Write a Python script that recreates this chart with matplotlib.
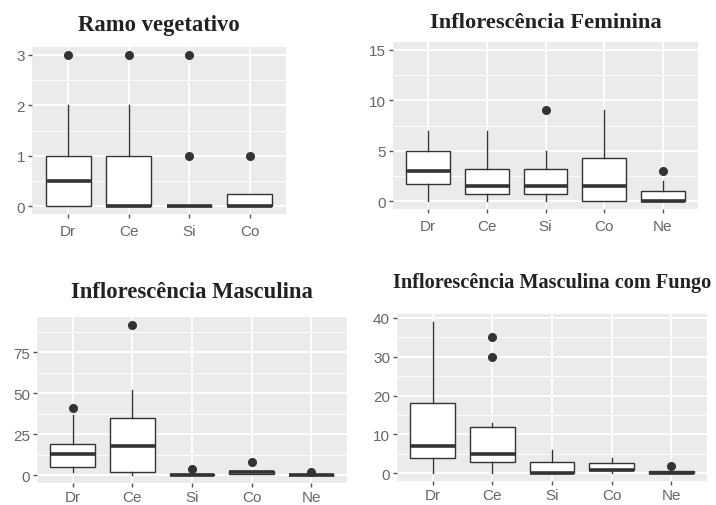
import matplotlib
matplotlib.use("Agg")
import matplotlib.pyplot as plt
from matplotlib.ticker import FixedLocator

# ---------------- data ----------------
cats4 = ["Dr", "Ce", "Si", "Co"]
cats5 = ["Dr", "Ce", "Si", "Co", "Ne"]

ramo_q1 = [0, 0, 0, 0]
ramo_med = [0.5, 0, 0, 0]
ramo_q3 = [1, 1, 0, 0.25]
ramo_lo = [0, 0, 0, 0]
ramo_hi = [2, 2, 0, 0.25]
ramo_out = [[3], [3], [1, 3], [1]]

fem_q1 = [1.75, 0.75, 0.75, 0, 0]
fem_med = [3, 1.5, 1.5, 1.5, 0]
fem_q3 = [5, 3.25, 3.25, 4.25, 1]
fem_lo = [0, 0, 0, 0, 0]
fem_hi = [7, 7, 5, 9, 2]
fem_out = [[], [], [9], [], [3]]

masc_q1 = [5, 2, 0, 1, 0]
masc_med = [13, 18, 0, 2, 0]
masc_q3 = [19, 35, 1, 3, 0.5]
masc_lo = [2, 0, 0, 1, 0]
masc_hi = [37, 52, 1, 3, 0.5]
masc_out = [[41], [92], [4], [8], [2]]

fungo_q1 = [4, 3, 0, 1, 0]
fungo_med = [7, 5, 0, 1, 0]
fungo_q3 = [18, 12, 3, 2.75, 0.5]
fungo_lo = [0, 0, 0, 0, 0]
fungo_hi = [39, 13, 6, 4, 0.5]
fungo_out = [[], [30, 35], [], [], [2]]

titles = ["Ramo vegetativo", "Inflorescência Feminina",
          "Inflorescência Masculina", "Inflorescência Masculina com Fungo"]
yticks_list = [[0, 1, 2, 3], [0, 5, 10, 15], [0, 25, 50, 75], [0, 10, 20, 30, 40]]
yminor_list = [[0.5, 1.5, 2.5], [2.5, 7.5, 12.5], [12.5, 37.5, 62.5, 87.5], [5, 15, 25, 35]]
ylims = [(-0.15, 3.15), (-0.75, 15.75), (-4.6, 96.6), (-1.95, 40.95)]

panels = [
    (cats4, ramo_q1, ramo_med, ramo_q3, ramo_lo, ramo_hi, ramo_out),
    (cats5, fem_q1, fem_med, fem_q3, fem_lo, fem_hi, fem_out),
    (cats5, masc_q1, masc_med, masc_q3, masc_lo, masc_hi, masc_out),
    (cats5, fungo_q1, fungo_med, fungo_q3, fungo_lo, fungo_hi, fungo_out),
]

W, H = 716, 506
# axes rectangles in pixels: (x0, y0_top, x1, y1_bottom)
rects_px = [(32, 48, 286, 215), (393, 43, 698, 210),
            (37, 318, 347, 484), (397, 315, 707, 482)]
title_y_px = [25, 23, 293, 283]
title_sizes = [16.3, 16.2, 16.3, 14.6]
xpads = [4, 4, 2, 2]

fig = plt.figure(figsize=(W / 100, H / 100), dpi=100)
fig.patch.set_facecolor("white")

edge = "#333333"
for i, (cats, q1, med, q3, lo, hi, out) in enumerate(panels):
    x0, y0, x1, y1 = rects_px[i]
    ax = fig.add_axes([x0 / W, 1 - y1 / H, (x1 - x0) / W, (y1 - y0) / H])
    ax.set_facecolor("#EBEBEB")
    stats = []
    for k, c in enumerate(cats):
        stats.append(dict(label=c, q1=q1[k], med=med[k], q3=q3[k],
                          whislo=lo[k], whishi=hi[k], fliers=out[k]))
    pos = list(range(1, len(cats) + 1))
    ax.bxp(stats, positions=pos, widths=0.75, patch_artist=True,
           showcaps=False, showfliers=True,
           boxprops=dict(facecolor="white", edgecolor=edge, linewidth=1.0),
           medianprops=dict(color=edge, linewidth=2.6, solid_capstyle="butt"),
           whiskerprops=dict(color=edge, linewidth=1.0),
           flierprops=dict(marker="o", markerfacecolor=edge, markeredgecolor=edge,
                           markersize=5.5, linestyle="none"),
           zorder=3)
    ax.set_xlim(0.4, len(cats) + 0.6)
    ax.set_ylim(*ylims[i])
    ax.set_yticks(yticks_list[i])
    ax.yaxis.set_minor_locator(FixedLocator(yminor_list[i]))
    ax.set_xticks(pos)
    ax.set_xticklabels(cats)
    ax.grid(True, which="major", color="white", linewidth=1.3, zorder=0)
    ax.grid(True, which="minor", axis="y", color="white", linewidth=0.6, zorder=0)
    ax.set_axisbelow(True)
    for s in ax.spines.values():
        s.set_visible(False)
    ax.tick_params(axis="both", which="major", length=3, width=1, color="#555555",
                   labelcolor="#666666", labelsize=11, pad=2)
    ax.tick_params(axis="x", which="major", pad=xpads[i])
    ax.tick_params(axis="both", which="minor", length=0)
    for lab in ax.get_xticklabels() + ax.get_yticklabels():
        lab.set_fontfamily("Liberation Sans")
    xc = (x0 + x1) / 2 / W
    fig.text(xc, 1 - title_y_px[i] / H, titles[i], ha="center", va="center",
             fontsize=title_sizes[i], fontweight="bold", family="Liberation Serif",
             color="#222222")

fig.savefig("out.png", dpi=100, facecolor="white")
